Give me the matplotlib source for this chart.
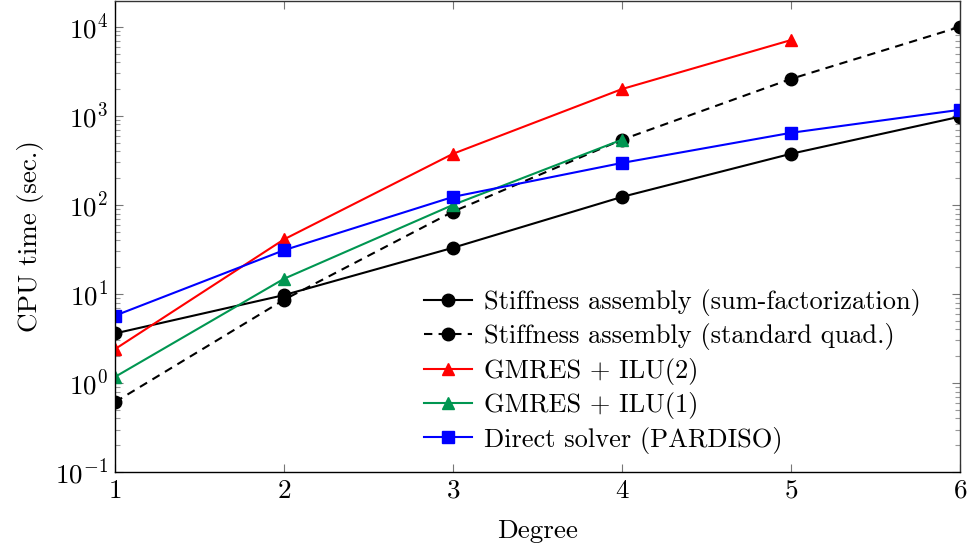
import matplotlib
matplotlib.use("Agg")
import matplotlib.pyplot as plt
from matplotlib.ticker import LogLocator, NullFormatter

plt.rcParams['font.family'] = ['cmr10']
plt.rcParams['mathtext.fontset'] = 'cm'
plt.rcParams['axes.formatter.use_mathtext'] = True
plt.rcParams['axes.unicode_minus'] = False

degrees = [1, 2, 3, 4, 5, 6]
sum_fact = [3.6, 9.7, 33, 123, 375, 980]
std_quad = [0.61, 8.6, 84, 540, 2600, 10000]
deg_ilu2 = [1, 2, 3, 4, 5]
gmres_ilu2 = [2.4, 41, 375, 2000, 7100]
deg_ilu1 = [1, 2, 3, 4]
gmres_ilu1 = [1.17, 14.8, 100, 540]
pardiso = [5.7, 31, 123, 296, 645, 1170]

labels = ["Stiffness assembly (sum-factorization)",
          "Stiffness assembly (standard quad.)",
          "GMRES + ILU(2)",
          "GMRES + ILU(1)",
          "Direct solver (PARDISO)"]

fig = plt.figure(figsize=(9.68, 5.49), dpi=100)
ax = fig.add_axes([115/968, 1 - 472/549, 845/968, 471/549])

lw = 1.5
ms = 9
ax.plot(degrees, sum_fact, color='black', lw=lw, marker='o', ms=ms, label=labels[0])
ax.plot(degrees, std_quad, color='black', lw=lw, ls=(0, (4, 3)), marker='o', ms=ms, label=labels[1])
ax.plot(deg_ilu2, gmres_ilu2, color='red', lw=lw, marker='^', ms=ms, label=labels[2])
ax.plot(deg_ilu1, gmres_ilu1, color='#009651', lw=lw, marker='^', ms=ms, label=labels[3])
ax.plot(degrees, pardiso, color='blue', lw=lw, marker='s', ms=ms, label=labels[4])

ax.set_yscale('log')
ax.set_xlim(1, 6)
ax.set_ylim(0.1, 1.95e4)
ax.set_xticks(degrees)
ax.yaxis.set_major_locator(LogLocator(base=10, numticks=10))
ax.yaxis.set_minor_locator(LogLocator(base=10, subs=range(2, 10), numticks=20))
ax.yaxis.set_minor_formatter(NullFormatter())

ax.tick_params(which='both', direction='in', top=True, right=True, labelsize=19.5)
ax.tick_params(which='major', length=6, width=0.8, color='#777777')
ax.tick_params(which='minor', length=3.5, width=0.8, color='#999999')
ax.tick_params(axis='x', which='major', pad=5)
ax.tick_params(axis='y', which='major', pad=5)
for s in ax.spines.values():
    s.set_linewidth(1.0)
    s.set_color('#333333')
ax.spines['left'].set_color('black')
ax.spines['bottom'].set_color('black')

ax.set_xlabel('Degree', fontsize=19.5, labelpad=12)
ax.set_ylabel('CPU time (sec.)', fontsize=19.5, labelpad=8)

leg = ax.legend(loc='lower right', bbox_to_anchor=(0.975, 0.0), frameon=False, fontsize=19,
                handlelength=1.8, handletextpad=0.45, labelspacing=0.28, borderaxespad=0.3)

fig.savefig('out.png', dpi=100)
